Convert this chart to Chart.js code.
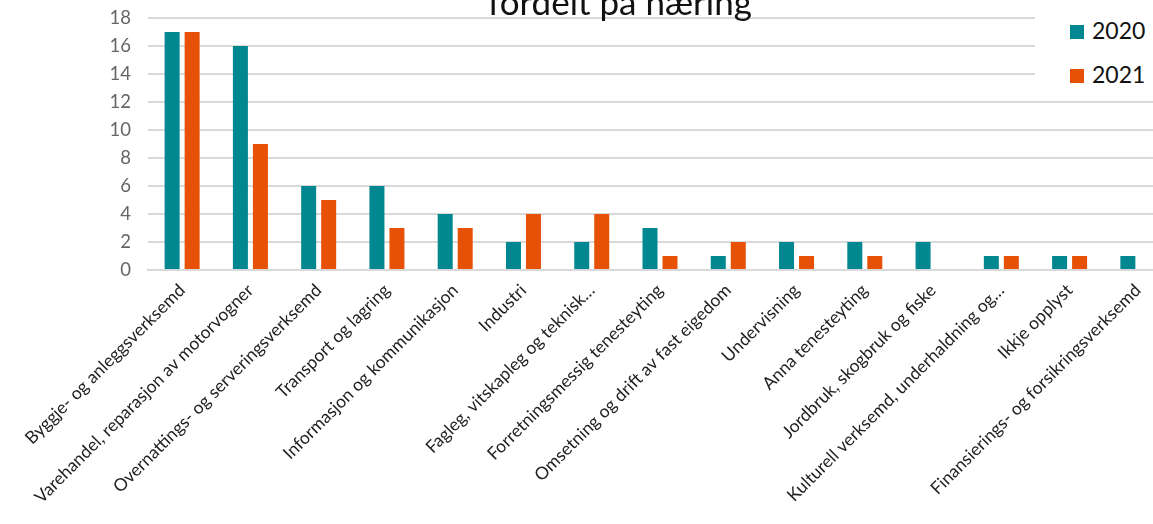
<!DOCTYPE html>
<html>
<head>
<meta charset="utf-8">
<script src="https://cdn.jsdelivr.net/npm/chart.js@4"></script>
<style>
  html, body { margin: 0; padding: 0; background: #fff; }
  body { width: 1153px; height: 524px; overflow: hidden; position: relative; font-family: Lato, "Open Sans", sans-serif; }
  .wrap { position: absolute; left: 0; top: -10px; width: 1172px; height: 534px; }
  .title { position: absolute; left: 420px; width: 400px; top: -20px; text-align: center; font-size: 35px; color: #111; white-space: nowrap; }
  .legend { position: absolute; left: 1035px; top: 0; width: 118px; height: 95px; background: #fff; }
  .legend div { position: absolute; left: 35px; font-size: 23px; color: #111; line-height: 26px; }
  .legend span { display: inline-block; width: 14px; height: 14px; margin-right: 8px; }
</style>
</head>
<body>
<div class="wrap"><canvas id="chart" width="1172" height="534"></canvas></div>
<div class="title">fordelt på næring</div>
<div class="legend">
  <div style="top:17px"><span style="background:#00878f"></span>2020</div>
  <div style="top:61px"><span style="background:#e65106"></span>2021</div>
</div>
<script>
let categories = [
    "Byggje- og anleggsverksemd",
    "Varehandel, reparasjon av motorvogner",
    "Overnattings- og serveringsverksemd",
    "Transport og lagring",
    "Informasjon og kommunikasjon",
    "Industri",
    "Fagleg, vitskapleg og teknisk…",
    "Forretningsmessig tenesteyting",
    "Omsetning og drift av fast eigedom",
    "Undervisning",
    "Anna tenesteyting",
    "Jordbruk, skogbruk og fiske",
    "Kulturell verksemd, underhaldning og…",
    "Ikkje opplyst",
    "Finansierings- og forsikringsverksemd"
];
let values2020 = [17, 16, 6, 6, 4, 2, 2, 3, 1, 2, 2, 2, 1, 1, 1];
let values2021 = [17, 9, 5, 3, 3, 4, 4, 1, 2, 1, 1, 0, 1, 1, 0];
let yTicks = [0, 2, 4, 6, 8, 10, 12, 14, 16, 18];

let canva = document.getElementById("chart");
let chart = new Chart(canva, {
    type: "bar",
    data: {
        labels: categories,
        datasets: [{
            label: "2020",
            data: values2020,
            backgroundColor: "#00878f",
            categoryPercentage: 0.586,
            barPercentage: 0.75
        }, {
            label: "2021",
            data: values2021,
            backgroundColor: "#e65106",
            categoryPercentage: 0.586,
            barPercentage: 0.75
        }]
    },
    options: {
        responsive: false,
        animation: false,
        layout: { padding: { top: 0, left: 0, right: 0, bottom: 0 } },
        scales: {
            x: {
                grid: { display: false },
                border: { color: "#d9d9d9", width: 2 },
                ticks: {
                    minRotation: 45,
                    maxRotation: 45,
                    autoSkip: false,
                    padding: 2,
                    color: "#222",
                    font: { family: "Lato", size: 17.5 }
                },
                afterFit: function(scale) { scale.height = 254; }
            },
            y: {
                min: 0,
                max: 18,
                afterBuildTicks: function(scale) { scale.ticks = yTicks.map(v => ({ value: v })); },
                grid: { color: "#d9d9d9", lineWidth: 2, drawTicks: false },
                border: { display: false },
                ticks: {
                    padding: 17,
                    color: "#666",
                    font: { family: "Lato", size: 18.5 }
                },
                afterFit: function(scale) { scale.width = 148; }
            }
        },
        plugins: {
            legend: { display: false },
            tooltip: { enabled: false }
        }
    }
});
</script>
</body>
</html>
